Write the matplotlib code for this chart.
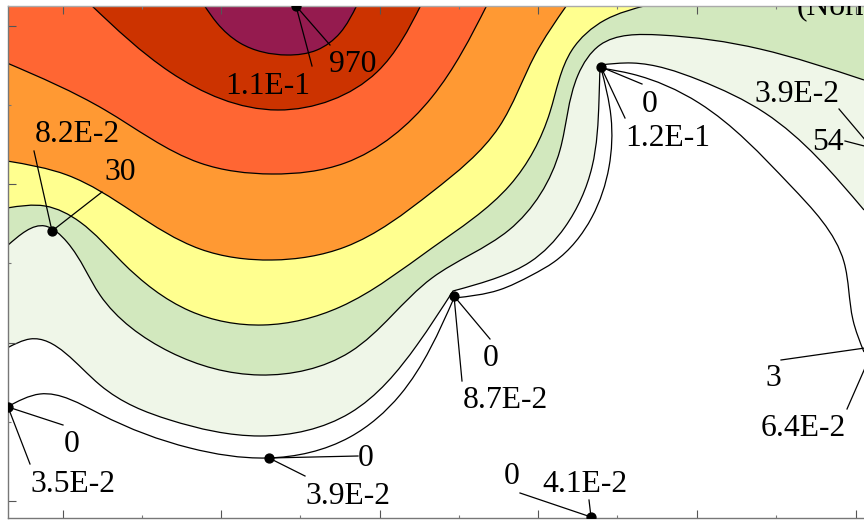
import matplotlib

matplotlib.use("Agg")
import matplotlib.pyplot as plt
import numpy as np
from matplotlib.patches import PathPatch
from matplotlib.path import Path

plt.rcParams["font.family"] = ["Liberation Serif", "DejaVu Serif"]

# contour lines, highest level first
purple_x = [204, 217, 240, 287, 317, 340, 357]
purple_y = [5, 23, 43, 55, 50, 33, 5]
darkred_x = [91, 170, 278, 377, 421]
darkred_y = [5, 72, 110, 72, 5]
redorange_x = [7, 105, 200, 272, 345, 432, 487]
redorange_y = [63, 110, 163, 174, 163, 97, 5]
orange_x = [7, 67, 133, 200, 272, 345, 432, 499, 535, 567]
orange_y = [161, 175, 212, 249, 260, 247, 192, 127, 55, 5]
yellow_x = [7, 45, 80, 122, 190, 263, 340, 432, 510, 550, 572, 605, 648]
yellow_y = [208, 206, 222, 262, 311, 325, 307, 248, 185, 112, 50, 20, 5]
green_x = [7, 45, 67, 100, 170, 260, 350, 432, 509, 560, 578, 600, 660, 760, 864]
green_y = [246, 226, 242, 295, 352, 375, 352, 278, 230, 150, 75, 45, 35, 49, 80]
pale_x = [7, 30, 100, 170, 260, 350, 417, 453, 499, 530, 565, 592, 599, 600, 632, 699, 765, 864]
pale_y = [348, 339, 385, 420, 436, 413, 345, 291, 277, 262, 227, 167, 100, 65, 63, 80, 113, 210]
inner_x = [7, 40, 100, 190, 267, 350, 400, 454, 499, 532, 554, 592, 609, 611, 601, 632, 699, 790, 844, 853, 864]
inner_y = [407, 394, 414, 448, 458, 437, 395, 298, 290, 275, 262, 217, 167, 117, 68, 74, 103, 185, 262, 320, 352]

# where a traced line has a sharp turn, hidden under a probe dot
pale_corners = [7, 13]
inner_corners = [7, 14]

level_colors = ["#EFF6E8", "#D2E8BE", "#FFFF8F", "#FF9933", "#FF6633", "#CC3300", "#951B4F"]

# probe points with the two leader ends and their labels
probe_x = [296, 52, 601, 454, 8, 269, 591]
probe_y = [6, 231, 67, 296, 407, 458, 517]
value_labels = ["970", "30", "0", "0", "0", "0", "0"]
value_end_x = [330, 102, 642, 490, 63, 358, 520]
value_end_y = [45, 192, 84, 339, 425, 456, 493]
value_text_x = [353, 120, 650, 491, 72, 366, 512]
value_text_y = [64, 173, 104, 358, 444, 458, 476]
height_labels = ["1.1E-1", "8.2E-2", "1.2E-1", "8.7E-2", "3.5E-2", "3.9E-2", "4.1E-2"]
height_end_x = [312, 34, 625, 462, 30, 305, 589]
height_end_y = [66, 151, 118, 381, 464, 476, 500]
height_text_x = [268, 77, 668, 505, 73, 348, 585]
height_text_y = [86, 134, 139, 401, 484, 496, 484]

# labels whose probes sit past the right edge
edge_labels = ["3.9E-2", "54", "3", "6.4E-2"]
edge_start_x = [839, 845, 781, 847]
edge_start_y = [109, 141, 360, 409]
edge_stop_x = [872, 872, 872, 872]
edge_stop_y = [148, 148, 347, 352]
edge_text_x = [797, 828, 773, 803]
edge_text_y = [94, 143, 379, 429]

major_x = [63, 221, 380, 538, 697, 856]
minor_x = [142, 300, 459, 617, 776]
major_y = [26, 184, 343, 501]
minor_y = [105, 263, 422]


def bezier_piece(pts):
    # C2 spline through the points, handed to matplotlib as cubic beziers
    n = len(pts)
    segs = np.diff(pts, axis=0)
    h = np.hypot(segs[:, 0], segs[:, 1])
    d = segs / h[:, None]
    A = np.zeros((n, n))
    b = np.zeros((n, 2))
    A[0, 0], A[0, 1] = 2, 1
    b[0] = 3 * d[0]
    A[-1, -2], A[-1, -1] = 1, 2
    b[-1] = 3 * d[-1]
    for i in range(1, n - 1):
        A[i, i - 1] = h[i]
        A[i, i] = 2 * (h[i - 1] + h[i])
        A[i, i + 1] = h[i - 1]
        b[i] = 3 * (h[i] * d[i - 1] + h[i - 1] * d[i])
    m = np.linalg.solve(A, b)
    verts = []
    for i in range(n - 1):
        verts += [pts[i] + m[i] * h[i] / 3, pts[i + 1] - m[i + 1] * h[i] / 3, pts[i + 1]]
    return verts


def smooth_path(xs, ys, corners=()):
    pts = np.column_stack([xs, ys]).astype(float)
    cuts = [0] + list(corners) + [len(pts) - 1]
    verts = [pts[0]]
    for a, b in zip(cuts[:-1], cuts[1:]):
        verts += bezier_piece(pts[a:b + 1])
    codes = [Path.MOVETO] + [Path.CURVE4] * (len(verts) - 1)
    return verts, codes


def draw_level(ax, xs, ys, corners, color):
    verts, codes = smooth_path(xs, ys, corners)
    for corner in [(xs[-1], -20), (xs[0], -20), (xs[0], ys[0])]:
        verts.append(corner)
        codes.append(Path.LINETO)
    ax.add_patch(PathPatch(Path(verts, codes), facecolor=color, edgecolor="none"))


def main():
    fig = plt.figure(figsize=(8.64, 5.23), dpi=100)
    width, height = 864.0, 523.0
    ax = fig.add_axes([7.5 / width, 1 - 517.5 / height, (width - 7.5) / width, 512 / height])
    ax.set_xlim(7.5, 864)
    ax.set_ylim(517.5, 5.5)

    levels = [
        (pale_x, pale_y, pale_corners),
        (green_x, green_y, []),
        (yellow_x, yellow_y, []),
        (orange_x, orange_y, []),
        (redorange_x, redorange_y, []),
        (darkred_x, darkred_y, []),
        (purple_x, purple_y, []),
    ]
    for (xs, ys, corners), color in zip(levels, level_colors):
        draw_level(ax, xs, ys, corners, color)

    for xs, ys, corners in levels + [(inner_x, inner_y, inner_corners)]:
        verts, codes = smooth_path(xs, ys, corners)
        ax.add_patch(PathPatch(Path(verts, codes), facecolor="none", edgecolor="black", linewidth=0.9))

    for i in range(len(probe_x)):
        ax.plot([probe_x[i], value_end_x[i]], [probe_y[i], value_end_y[i]], color="black", lw=0.9, zorder=4)
        ax.plot([probe_x[i], height_end_x[i]], [probe_y[i], height_end_y[i]], color="black", lw=0.9, zorder=4)
        ax.text(value_text_x[i], value_text_y[i], value_labels[i], fontsize=22.8, ha="center", va="center", zorder=5)
        ax.text(height_text_x[i], height_text_y[i], height_labels[i], fontsize=22.8, ha="center", va="center", zorder=5)
    ax.plot(probe_x, probe_y, "o", color="black", ms=6.4, ls="none", zorder=6)

    for i in range(len(edge_labels)):
        ax.plot([edge_start_x[i], edge_stop_x[i]], [edge_start_y[i], edge_stop_y[i]], color="black", lw=0.9, zorder=4)
        ax.text(edge_text_x[i], edge_text_y[i], edge_labels[i], fontsize=22.8, ha="center", va="center", zorder=5)

    # what is left of the source title after the crop
    ax.text(797, 14, "(Norm", fontsize=22.8, ha="left", va="baseline", clip_on=True, zorder=5)

    ax.set_xticks(major_x)
    ax.set_xticks(minor_x, minor=True)
    ax.set_yticks(major_y)
    ax.set_yticks(minor_y, minor=True)
    ax.tick_params(which="major", direction="in", length=5.5, width=0.8, color="#555555",
                   top=True, right=False, labelbottom=False, labelleft=False)
    ax.tick_params(which="minor", direction="in", length=2.5, width=0.8, color="#777777",
                   top=True, right=False)

    for side in ["left", "bottom"]:
        ax.spines[side].set_color("#777777")
        ax.spines[side].set_linewidth(1.0)
    ax.spines["top"].set_color("#AAAAAA")
    ax.spines["top"].set_linewidth(1.0)
    ax.spines["right"].set_visible(False)

    fig.savefig("out.png", dpi=100)


if __name__ == "__main__":
    main()
